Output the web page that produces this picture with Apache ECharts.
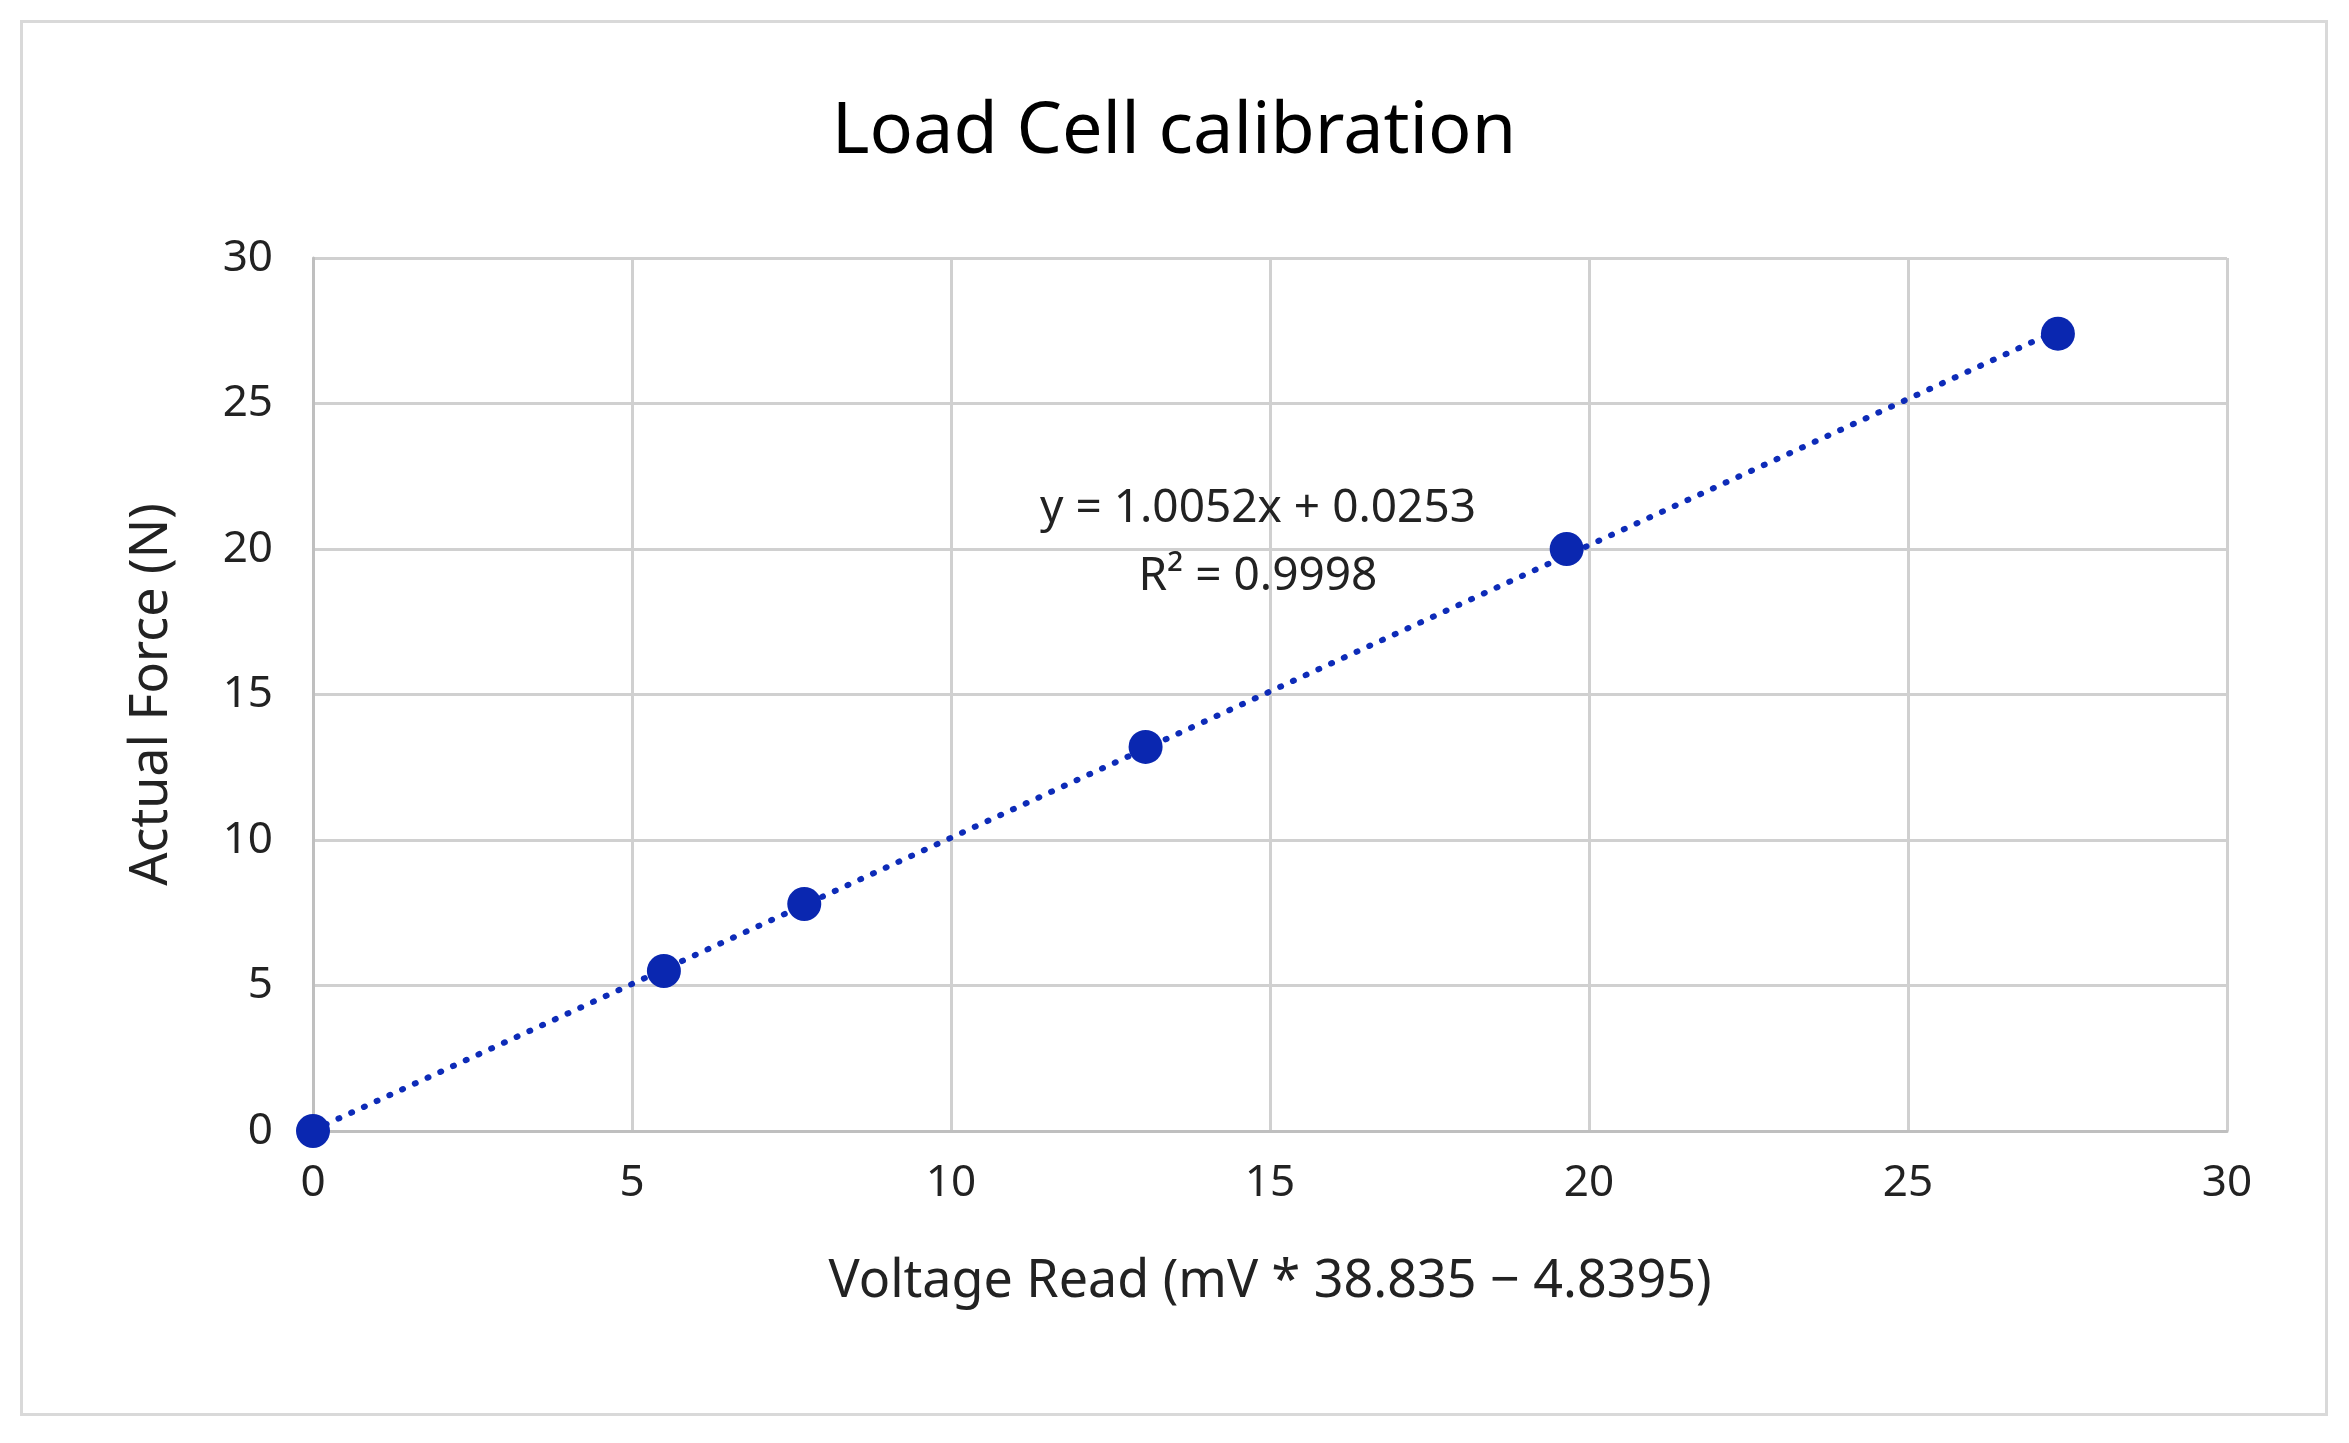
<!DOCTYPE html>
<html>
<head>
<meta charset="utf-8">
<script src="https://cdn.jsdelivr.net/npm/echarts@6/dist/echarts.min.js"></script>
<style>
html,body{margin:0;padding:0;background:#fff;}
#chart{position:absolute;left:20px;top:20px;width:2308px;height:1396px;border:3px solid #d9d9d9;box-sizing:border-box;}
</style>
</head>
<body>
<div id="chart"></div>
<script>
// measured points
var voltageRead = [0, 5.5, 7.7, 13.05, 19.65, 27.35];
var actualForce = [0, 5.5, 7.8, 13.2, 20.0, 27.4];
// linear trendline end points (y = 1.0052x + 0.0253)
var trendX = [0, 27.35];
var trendY = [0.0253, 27.518];
var eqLines = ['y = 1.0052x + 0.0253', 'R² = 0.9998'];

var pts = [];
for (var i = 0; i < voltageRead.length; i++) pts.push([voltageRead[i], actualForce[i]]);
var trend = [];
for (var j = 0; j < trendX.length; j++) trend.push([trendX[j], trendY[j]]);

var font = 'Noto Sans';
var chart = echarts.init(document.getElementById('chart'));
chart.setOption({
	animation: false,
	textStyle: { fontFamily: font },
	title: {
		text: 'Load Cell calibration',
		left: 'center',
		top: 68,
		textStyle: { fontSize: 72, fontWeight: 'normal', color: '#000', fontFamily: font }
	},
	grid: { left: 290, right: 98, top: 235, bottom: 282 },
	xAxis: {
		type: 'value', min: 0, max: 30, interval: 5,
		name: 'Voltage Read (mV * 38.835 \u2212 4.8395)',
		nameLocation: 'middle', nameGap: 125,
		nameTextStyle: { fontSize: 52, color: '#222' },
		axisLine: { lineStyle: { color: '#bfbfbf', width: 3 } },
		axisTick: { show: false },
		axisLabel: { fontSize: 44, color: '#222', margin: 30 },
		splitLine: { lineStyle: { color: '#d0d0d0', width: 3 } }
	},
	yAxis: {
		type: 'value', min: 0, max: 30, interval: 5,
		name: 'Actual Force (N)',
		nameLocation: 'middle', nameGap: 135,
		nameTextStyle: { fontSize: 52, color: '#222' },
		axisLine: { show: true, lineStyle: { color: '#bfbfbf', width: 3 } },
		axisTick: { show: false },
		axisLabel: { fontSize: 44, color: '#222', margin: 40 },
		splitLine: { lineStyle: { color: '#d0d0d0', width: 3 } }
	},
	series: [{
		type: 'line',
		data: trend,
		symbol: 'none',
		lineStyle: { color: '#0d2bb8', width: 6, type: [1, 13], cap: 'round' },
		z: 2
	}, {
		type: 'scatter',
		data: pts,
		symbolSize: 34,
		itemStyle: { color: '#0a27b0', opacity: 1 },
		z: 3
	}],
	graphic: [{
		type: 'text',
		x: 1235, y: 452,
		style: {
			text: eqLines.join('\n'),
			fontSize: 46, fontFamily: font, fill: '#222',
			align: 'center', textAlign: 'center', lineHeight: 68
		},
		z: 10
	}]
});
</script>
</body>
</html>
